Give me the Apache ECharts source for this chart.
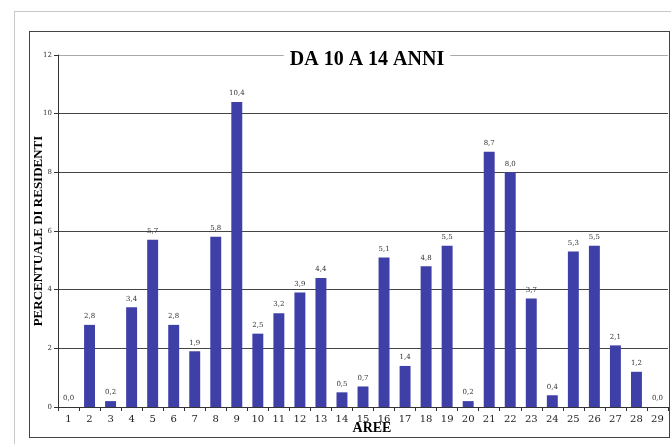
<!DOCTYPE html>
<html><head><meta charset="utf-8">
<script src="https://cdn.jsdelivr.net/npm/echarts@6/dist/echarts.min.js"></script>
<style>
html,body{margin:0;padding:0;background:#fff;}
#outer{position:absolute;left:14px;top:11px;width:680px;height:440px;border:1px solid #c8c8c8;box-sizing:border-box;}
#inner{position:absolute;left:29px;top:31px;width:641px;height:407px;border:1px solid #444;box-sizing:border-box;background:#fff;}
#c{position:absolute;left:0;top:0;width:671px;height:444px;}
</style>
</head><body>
<div id="outer"></div>
<div id="inner"></div>
<div id="c"></div>
<script>
const categories = ['1','2','3','4','5','6','7','8','9','10','11','12','13','14','15','16','17','18','19','20','21','22','23','24','25','26','27','28','29'];
const values = [0.0,2.8,0.2,3.4,5.7,2.8,1.9,5.8,10.4,2.5,3.2,3.9,4.4,0.5,0.7,5.1,1.4,4.8,5.5,0.2,8.7,8.0,3.7,0.4,5.3,5.5,2.1,1.2,0.0];
const yTicks = [0,2,4,6,8,10,12];

const serif = '"DejaVu Serif", "Liberation Serif", serif';
const chart = echarts.init(document.getElementById('c'), null, {renderer:'canvas'});
chart.setOption({
  animation:false,
  backgroundColor:'transparent',
  grid:{left:58,right:3,top:55,bottom:37,containLabel:false},
  title:{
    text:'DA 10 A 14 ANNI',
    left:361, top:48, textAlign:'center',
    backgroundColor:'#fff', padding:[2,6],
    textStyle:{fontFamily:'"Liberation Serif", serif',fontWeight:'bold',fontSize:20,color:'#000'}
  },
  xAxis:{
    type:'category',
    data:categories,
    name:'AREE',
    nameLocation:'middle',
    nameGap:14,
    nameMoveOverlap:false,
    nameTextStyle:{fontFamily:'"Liberation Serif", serif',fontWeight:'bold',fontSize:14,color:'#000',padding:[0,0,0,18]},
    axisLine:{lineStyle:{color:'#333',width:1}},
    axisTick:{show:true,alignWithLabel:false,length:4,lineStyle:{color:'#333'}},
    axisLabel:{fontFamily:serif,fontSize:10,color:'#222',margin:7,interval:0}
  },
  yAxis:{
    type:'value',
    min:0,max:12,interval:2,
    name:'PERCENTUALE DI RESIDENTI',
    nameLocation:'middle',
    nameGap:13,
    nameMoveOverlap:false,
    nameRotate:90,
    nameTextStyle:{fontFamily:'"Liberation Serif", serif',fontWeight:'bold',fontSize:13,color:'#000'},
    axisLine:{show:true,lineStyle:{color:'#333',width:1}},
    axisTick:{show:true,length:4,lineStyle:{color:'#333'}},
    axisLabel:{fontFamily:serif,fontSize:7,color:'#333',margin:6,formatter:v=>yTicks.includes(v)?String(v):''},
    splitLine:{show:true,lineStyle:{color:['#444','#444','#444','#444','#444','#444','#aaa'],width:1}}
  },
  series:[{
    type:'bar',
    data:values,
    barWidth:'52%',
    itemStyle:{color:'#3f3fa8'},
    label:{
      show:true,position:'top',distance:5,
      fontFamily:serif,fontSize:7,color:'#333',
      formatter:p=>p.value.toFixed(1).replace('.',',')
    }
  }]
});
</script>
</body></html>
